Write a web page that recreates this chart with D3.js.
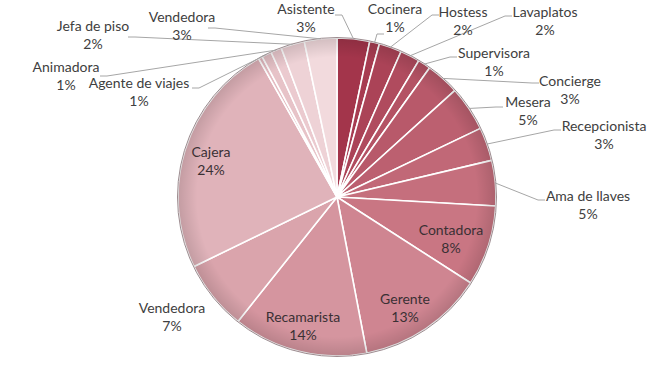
<!DOCTYPE html>
<html>
<head>
<meta charset="utf-8">
<script src="https://cdn.jsdelivr.net/npm/d3@7"></script>
<style>
  body { margin: 0; background: #fff; }
  svg { display: block; }
  text { font-family: "Lato", "Open Sans", sans-serif; font-size: 14px; fill: #404040; }
</style>
</head>
<body>
<div id="chart"></div>
<script>
const width = 669;
const height = 370;

// Chart data (share of staff, percent), clockwise from 12 o'clock
const categories = ["Asistente", "Cocinera", "Hostess", "Lavaplatos", "Supervisora", "Concierge",
  "Mesera", "Recepcionista", "Ama de llaves", "Contadora", "Gerente", "Recamarista",
  "Vendedora", "Cajera", "", "Agente de viajes", "Animadora", "Jefa de piso", "Vendedora"];
const values = [3.3, 1.0, 2.3, 2.0, 1.3, 3.4, 4.6, 3.4, 4.6, 8.2, 12.9, 13.7,
  7.1, 24.0, 0.4, 1.0, 1.1, 2.4, 3.3];

// Label placement (layout only): centre of the name line, and where the leader meets the label
const labelLayout = {
  0: { x: 306, y: 9, anchor: [335, 15], side: 1 },
  1: { x: 395, y: 9, anchor: [384, 34], side: -1 },
  2: { x: 463, y: 12, anchor: [439, 15], side: -1 },
  3: { x: 545, y: 12, anchor: [512, 16], side: -1 },
  4: { x: 494, y: 53, anchor: [457, 57], side: -1 },
  5: { x: 570, y: 81, anchor: [539, 83], side: -1 },
  6: { x: 528, y: 102, anchor: [503, 107], side: -1 },
  7: { x: 604, y: 126, anchor: [561, 130], side: -1 },
  8: { x: 588, y: 196, anchor: [545, 200], side: -1 },
  9: { x: 451, y: 230, inside: true },
  10: { x: 405, y: 299, inside: true },
  11: { x: 303, y: 317, inside: true },
  12: { x: 172, y: 308 },
  13: { x: 211, y: 152, inside: true },
  15: { x: 139, y: 83, anchor: [192, 88], side: 1 },
  16: { x: 66, y: 67, anchor: [100, 76], side: 1 },
  17: { x: 93, y: 26, anchor: [128, 37], side: 1 },
  18: { x: 182, y: 17, anchor: [208, 28], side: 1 }
};

const cx = 337, cy = 197, radius = 159;

const data = categories.map((c, i) => ({ name: c, value: values[i], index: i }));
const total = d3.sum(values);

const svg = d3.select("#chart")
  .append("svg")
  .attr("width", width)
  .attr("height", height);

// Monochrome palette, dark red to pale pink
const color = d3.scaleLinear()
  .domain([0, 9, 13, 18])
  .range(["#a3354b", "#c97683", "#e0b3ba", "#f2dadd"])
  .interpolate(d3.interpolateRgb);

// Edge shading like the original bevel
const defs = svg.append("defs");
const grad = defs.append("radialGradient").attr("id", "rim");
grad.append("stop").attr("offset", "88%").attr("stop-color", "#000").attr("stop-opacity", 0);
grad.append("stop").attr("offset", "100%").attr("stop-color", "#000").attr("stop-opacity", 0.13);

const pie = d3.pie().value(d => d.value).sort(null);
const arcs = pie(data);
const arc = d3.arc().innerRadius(0).outerRadius(radius);
const rimArc = d3.arc().innerRadius(radius).outerRadius(radius);

const g = svg.append("g").attr("transform", `translate(${cx},${cy})`);

g.selectAll("path.slice")
  .data(arcs)
  .enter()
  .append("path")
  .attr("class", "slice")
  .attr("d", arc)
  .attr("fill", d => color(d.index))
  .attr("stroke", "#fff")
  .attr("stroke-width", 1.6)
  .attr("stroke-linejoin", "round");

g.append("circle")
  .attr("r", radius)
  .attr("fill", "url(#rim)");

g.append("circle")
  .attr("r", radius + 0.5)
  .attr("fill", "none")
  .attr("stroke", "#9c8b8f")
  .attr("stroke-width", 1);

const pct = d => Math.round(d.value / total * 100) + "%";

// Leader lines
const leaders = arcs.filter(d => labelLayout[d.index] && labelLayout[d.index].anchor);
svg.append("g")
  .selectAll("polyline")
  .data(leaders)
  .enter()
  .append("polyline")
  .attr("fill", "none")
  .attr("stroke", "#a6a6a6")
  .attr("stroke-width", 1)
  .attr("points", d => {
    const l = labelLayout[d.index];
    const [px, py] = rimArc.centroid(d);
    const a = l.anchor;
    return [a, [a[0] + l.side * 7, a[1]], [cx + px, cy + py]].map(p => p.join(",")).join(" ");
  });

// Labels
const labels = svg.append("g")
  .selectAll("g.label")
  .data(arcs.filter(d => labelLayout[d.index] && d.data.name))
  .enter()
  .append("g")
  .attr("class", "label")
  .attr("transform", d => `translate(${labelLayout[d.index].x},${labelLayout[d.index].y})`);

labels.append("text")
  .attr("text-anchor", "middle")
  .attr("dy", "0.35em")
  .style("fill", d => labelLayout[d.index].inside ? "#3a3034" : null)
  .text(d => d.data.name);

labels.append("text")
  .attr("text-anchor", "middle")
  .attr("y", 18)
  .attr("dy", "0.35em")
  .style("fill", d => labelLayout[d.index].inside ? "#3a3034" : null)
  .text(d => pct(d));
</script>
</body>
</html>
